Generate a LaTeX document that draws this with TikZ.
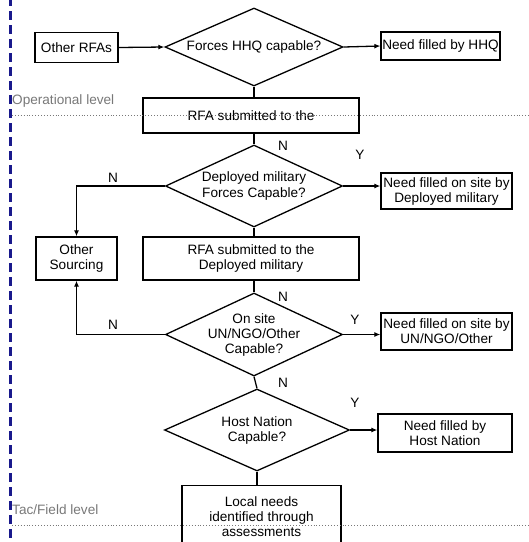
\documentclass[tikz,border=0pt]{standalone}
\usepackage{fontspec}
\setmainfont{Liberation Sans}
\usetikzlibrary{shapes.geometric,arrows.meta}
\definecolor{levelblue}{RGB}{25,25,140}
\definecolor{levelgray}{RGB}{120,120,120}
\begin{document}
\begin{tikzpicture}[x=1pt,y=-1pt,
  font=\fontsize{13.6}{15}\selectfont,
  box/.style={draw,line width=1.3pt,inner sep=0pt,align=center,fill=white},
  decision/.style={draw,diamond,line width=1.3pt,inner sep=0pt,fill=white},
  conn/.style={line width=1.3pt},
  arr/.style={conn,-{Latex[length=6pt,width=5pt]}},
  yn/.style={inner sep=0pt},
  levelline/.style={levelgray,dotted,line width=0.9pt},
  leveltext/.style={levelgray,anchor=west,inner sep=0pt}]
\useasboundingbox (0,0) rectangle (529,542);
\clip (0,0) rectangle (529,542);

% level boundaries
\draw[levelblue,line width=3pt,dash pattern=on 9pt off 5pt] (10,-3) -- (10,545);

% process boxes
\node[box,minimum width=83pt,minimum height=30pt] (oth) at (76.5,47.5) {Other RFAs};
\node[box,minimum width=119pt,minimum height=28pt] (hhq) at (440.5,46) {Need filled by HHQ};
\node[box,minimum width=216pt,minimum height=35pt] (rfa1) at (251,115.5) {RFA submitted to the};
\node[box,minimum width=131pt,minimum height=36pt] (dep) at (446.5,191) {Need filled on site by\\Deployed military};
\node[box,minimum width=81pt,minimum height=43pt] (osrc) at (76.5,258.5) {Other\\Sourcing};
\node[box,minimum width=216pt,minimum height=43pt] (rfa2) at (251,258.5) {RFA submitted to the\\Deployed military};
\node[box,minimum width=131pt,minimum height=37pt] (un) at (446.5,331.5) {Need filled on site by\\UN/NGO/Other};
\node[box,minimum width=134pt,minimum height=38pt] (hn) at (445,433) {Need filled by\\Host Nation};
\node[box,minimum width=159pt,minimum height=76pt,anchor=north] (loc) at (261.5,485) {};
\node[align=center,anchor=north] at (loc.north) [yshift=-8pt] {Local needs\\identified through\\assessments};

% decisions
\node[decision,minimum width=178pt,minimum height=78pt] (d1) at (254,47) {};
\node at (d1) {Forces HHQ capable?};
\node[decision,minimum width=177pt,minimum height=82pt] (d2) at (254,186) {};
\node[align=center,font=\fontsize{13.6}{16}\selectfont] at (d2) {Deployed military\\Forces Capable?};
\node[decision,minimum width=177pt,minimum height=83pt] (d3) at (254,334.5) {};
\node[align=center] at (d3) {On site\\UN/NGO/Other\\Capable?};
\node[decision,minimum width=185pt,minimum height=82pt] (d4) at (257,430) {};
\node[align=center] at (d4) {Host Nation\\Capable?};

% connectors
\draw[arr] (oth.east) -- (d1.west);
\draw[arr] (d1.east) -- (hhq.west);
\draw[conn] (d1.south) -- (d1.south |- rfa1.north);
\draw[conn] (rfa1.south -| d2.north) -- (d2.north);
\draw[arr] (d2.west) -| (osrc.north);
\draw[arr] (d2.east) -- (dep.west |- d2.east);
\draw[conn] (d2.south) -- (d2.south |- rfa2.north);
\draw[conn] (rfa2.south -| d3.north) -- (d3.north);
\draw[arr] (d3.west) -| (osrc.south);
\draw[arr] (d3.east) -- (un.west |- d3.east);
\draw[conn] (d3.south) -- (d4.north);
\draw[arr] (d4.east) -- (hn.west |- d4.east);
\draw[conn] (d4.south) -- (d4.south |- loc.north);

% branch labels
\node[yn] at (283,146) {N};
\node[yn] at (360,155) {Y};
\node[yn] at (113,177.5) {N};
\node[yn] at (283,297) {N};
\node[yn] at (355,320) {Y};
\node[yn] at (113,325) {N};
\node[yn] at (283,383) {N};
\node[yn] at (355,403) {Y};

% level separators
\draw[levelline] (12,115) -- (529,115);
\node[leveltext] at (12,101) {Operational level};
\draw[levelline] (12,525) -- (529,525);
\node[leveltext] at (12,510) {Tac/Field level};
\end{tikzpicture}
\end{document}
